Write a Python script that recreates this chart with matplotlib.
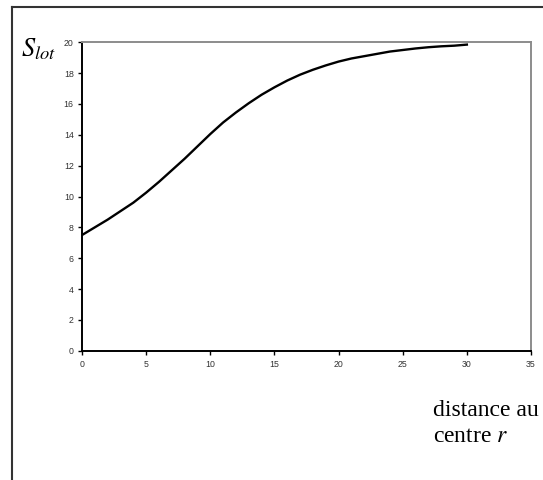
import numpy as np
import matplotlib
matplotlib.use("Agg")
import matplotlib.pyplot as plt
from matplotlib.lines import Line2D

# distance to centre r and S_lot
r = np.arange(0, 31)
s_lot = [7.5, 8.0, 8.5, 9.05, 9.6, 10.25, 10.95, 11.7, 12.45, 13.25,
         14.05, 14.8, 15.45, 16.05, 16.6, 17.08, 17.52, 17.9, 18.22, 18.5,
         18.75, 18.95, 19.1, 19.25, 19.4, 19.5, 19.6, 19.68, 19.74, 19.78,
         19.85]
xticks = [0, 5, 10, 15, 20, 25, 30, 35]
yticks = [0, 2, 4, 6, 8, 10, 12, 14, 16, 18, 20]

fig = plt.figure(figsize=(5.43, 4.8), dpi=100)
ax = fig.add_axes([82 / 543, 1 - 350.7 / 480, 449 / 543, 308.4 / 480])

ax.plot(r, s_lot, color='black', lw=1.7)

ax.set_xlim(0, 35)
ax.set_ylim(0, 20)
ax.set_xticks(xticks)
ax.set_yticks(yticks)
ax.tick_params(labelsize=6.3, length=3, width=1, colors='black',
               labelcolor='#333333', direction='out')
ax.tick_params(axis='x', pad=4)
ax.tick_params(axis='y', pad=3)
for lab in ax.get_xticklabels() + ax.get_yticklabels():
    lab.set_family('Liberation Sans')
for side in ['left', 'bottom']:
    ax.spines[side].set_color('black')
    ax.spines[side].set_linewidth(1.4)
for side in ['top', 'right']:
    ax.spines[side].set_color('#8c8c8c')
    ax.spines[side].set_linewidth(1.4)

# outer frame (only the left and top edges show)
fig.add_artist(Line2D([12 / 543, 12 / 543], [0, 1 - 7 / 480],
                      color='#333333', lw=1.5))
fig.add_artist(Line2D([12 / 543, 1], [1 - 7 / 480, 1 - 7 / 480],
                      color='#333333', lw=1.5))

fig.text(21 / 543, 1 - 49 / 480, r'$S_{lot}$', fontsize=19,
         family='Liberation Serif', va='center', ha='left',
         math_fontfamily='stix')
fig.text(433 / 543, 1 - 411 / 480, 'distance au', fontsize=17,
         family='Liberation Serif', va='center', ha='left')
fig.text(433 / 543, 1 - 437 / 480, 'centre $r$', fontsize=17,
         family='Liberation Serif', va='center', ha='left',
         math_fontfamily='stix')

fig.savefig('out.png', dpi=100)
